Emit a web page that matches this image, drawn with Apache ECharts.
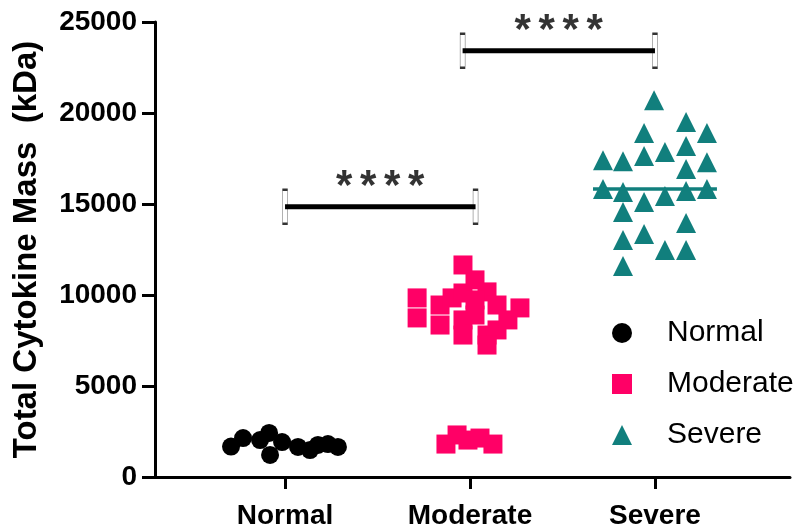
<!DOCTYPE html>
<html>
<head>
<meta charset="utf-8">
<script src="https://cdn.jsdelivr.net/npm/echarts@6/dist/echarts.min.js"></script>
<style>
html, body { margin: 0; padding: 0; background: #fff; }
#chart { width: 799px; height: 529px; }
</style>
</head>
<body>
<div id="chart"></div>
<script>
var categories = ['Normal', 'Moderate', 'Severe'];
var yTicks = [0, 5000, 10000, 15000, 20000, 25000];

// x = group position (1,2,3) plus the scatter spread, y = kDa
var normalX = [0.708, 0.773, 0.865, 0.914, 0.919, 0.984, 1.070, 1.135, 1.178, 1.232, 1.286];
var normalY = [1670, 2140, 2030, 2420, 1210, 1920, 1650, 1480, 1760, 1810, 1650];

var moderateX = [1.962, 2.027, 1.714, 1.838, 1.903, 1.962, 2.092, 2.146, 2.270, 1.714, 1.838, 1.962,
    1.962, 2.092, 2.146, 2.205, 2.092, 2.027, 2.027, 1.870, 1.930, 1.989, 2.054, 2.124];
var moderateY = [11650, 10830, 9840, 9450, 9840, 10110, 10170, 9450, 9290, 8740, 8350, 8630,
    7800, 7800, 8080, 8630, 7250, 9730, 8900, 1810, 2310, 2030, 2140, 1810];

var severeX = [2.995, 3.168, 3.281, 2.941, 2.719, 2.827, 2.941, 3.054, 3.168, 3.168, 3.281, 2.719,
    2.827, 2.941, 3.054, 3.168, 3.281, 2.827, 3.168, 2.827, 2.941, 3.054, 3.168, 2.827];
var severeY = [20700, 19500, 18900, 18900, 17400, 17350, 17640, 17860, 18190, 16920, 17300, 15820,
    15660, 15110, 15440, 15710, 15820, 14560, 13960, 13020, 13350, 12470, 12470, 11590];
var severeLineX = [2.665, 3.335];

// significance brackets
var sigX1 = [1, 1.96];
var sigX2 = [2.03, 3];
var sigY = [14850, 23420];
var sigStars = [4, 4];

var FONT = 'Liberation Sans, Arial, sans-serif';
var PINK = '#FF0066';
var TEAL = '#117F7D';

function pairs(xs, ys) {
    var out = [];
    for (var i = 0; i < xs.length; ++i) {
        out.push([xs[i], ys[i]]);
    }
    return out;
}

function median(arr) {
    var s = arr.slice().sort(function (a, b) { return a - b; });
    var m = Math.floor(s.length / 2);
    return s.length % 2 ? s[m] : (s[m - 1] + s[m]) / 2;
}

var sevMed = median(severeY);

var ser = [
    {
        name: 'Normal', type: 'scatter', symbol: 'circle', symbolSize: 18,
        itemStyle: { color: '#000', opacity: 1 }, data: pairs(normalX, normalY), z: 3
    },
    {
        name: 'Moderate', type: 'scatter', symbol: 'rect', symbolSize: 19,
        itemStyle: { color: PINK, opacity: 1 }, data: pairs(moderateX, moderateY), z: 3
    },
    {
        name: 'Severe', type: 'scatter', symbol: 'triangle', symbolSize: 20,
        itemStyle: { color: TEAL, opacity: 1 }, data: pairs(severeX, severeY), z: 3
    },
    {
        name: 'severeMedian', type: 'line', symbol: 'none', silent: true,
        lineStyle: { color: TEAL, width: 3.5 },
        data: [[severeLineX[0], sevMed], [severeLineX[1], sevMed]], z: 4
    }
];

for (var i = 0; i < sigY.length; ++i) {
    var stars = '';
    for (var k = 0; k < sigStars[i]; ++k) {
        stars += '{a|*}';
    }
    ser.push({
        type: 'scatter', symbol: 'rect', symbolSize: [5, 34], silent: true,
        itemStyle: { color: '#fff', borderColor: '#000', borderWidth: 1 },
        data: [[sigX1[i], sigY[i]], [sigX2[i], sigY[i]]], z: 5
    });
    ser.push({
        type: 'line', symbol: 'none', silent: true,
        lineStyle: { color: '#000', width: 5 },
        data: [[sigX1[i], sigY[i]], [sigX2[i], sigY[i]]], z: 6
    });
    ser.push({
        type: 'scatter', symbolSize: 1, silent: true,
        itemStyle: { color: 'rgba(0,0,0,0)' },
        label: {
            show: true, position: 'inside', offset: [0, -19],
            formatter: stars,
            rich: {
                a: { width: 24, align: 'center', color: '#000', fontFamily: FONT, fontWeight: 'bold', fontSize: 42 }
            }
        },
        data: [[(sigX1[i] + sigX2[i]) / 2, sigY[i]]], z: 6
    });
}

var option = {
    backgroundColor: '#fff',
    animation: false,
    grid: { left: 155, right: 9, top: 22, bottom: 52, outerBoundsMode: 'none' },
    legend: {
        data: categories,
        orient: 'vertical',
        left: 607,
        top: 313,
        itemWidth: 20,
        itemHeight: 20,
        itemGap: 21,
        textStyle: { fontFamily: FONT, fontSize: 30, color: '#000', padding: [0, 0, 0, 30] }
    },
    xAxis: {
        type: 'value',
        min: 0.297,
        max: 3.73,
        axisLine: { lineStyle: { color: '#000', width: 3 } },
        axisTick: { show: true, customValues: [1, 2, 3], length: 12, lineStyle: { color: '#000', width: 3 } },
        axisLabel: {
            customValues: [1, 2, 3],
            margin: 25,
            formatter: function (v) { return categories[Math.round(v) - 1]; },
            fontFamily: FONT, fontWeight: 'bold', fontSize: 28, color: '#000'
        },
        splitLine: { show: false }
    },
    yAxis: {
        type: 'value',
        min: yTicks[0],
        max: yTicks[yTicks.length - 1],
        interval: 5000,
        name: 'Total Cytokine Mass  (kDa)',
        nameLocation: 'middle',
        nameGap: 112,
        nameTextStyle: { fontFamily: FONT, fontWeight: 'bold', fontSize: 33, color: '#000' },
        axisLine: { show: true, lineStyle: { color: '#000', width: 3 } },
        axisTick: { show: true, length: 13, lineStyle: { color: '#000', width: 3 } },
        axisLabel: {
            margin: 18,
            formatter: function (v) { return String(v); },
            fontFamily: FONT, fontWeight: 'bold', fontSize: 28, color: '#000'
        },
        splitLine: { show: false }
    },
    series: ser
};

echarts.init(document.getElementById('chart')).setOption(option);
</script>
</body>
</html>
